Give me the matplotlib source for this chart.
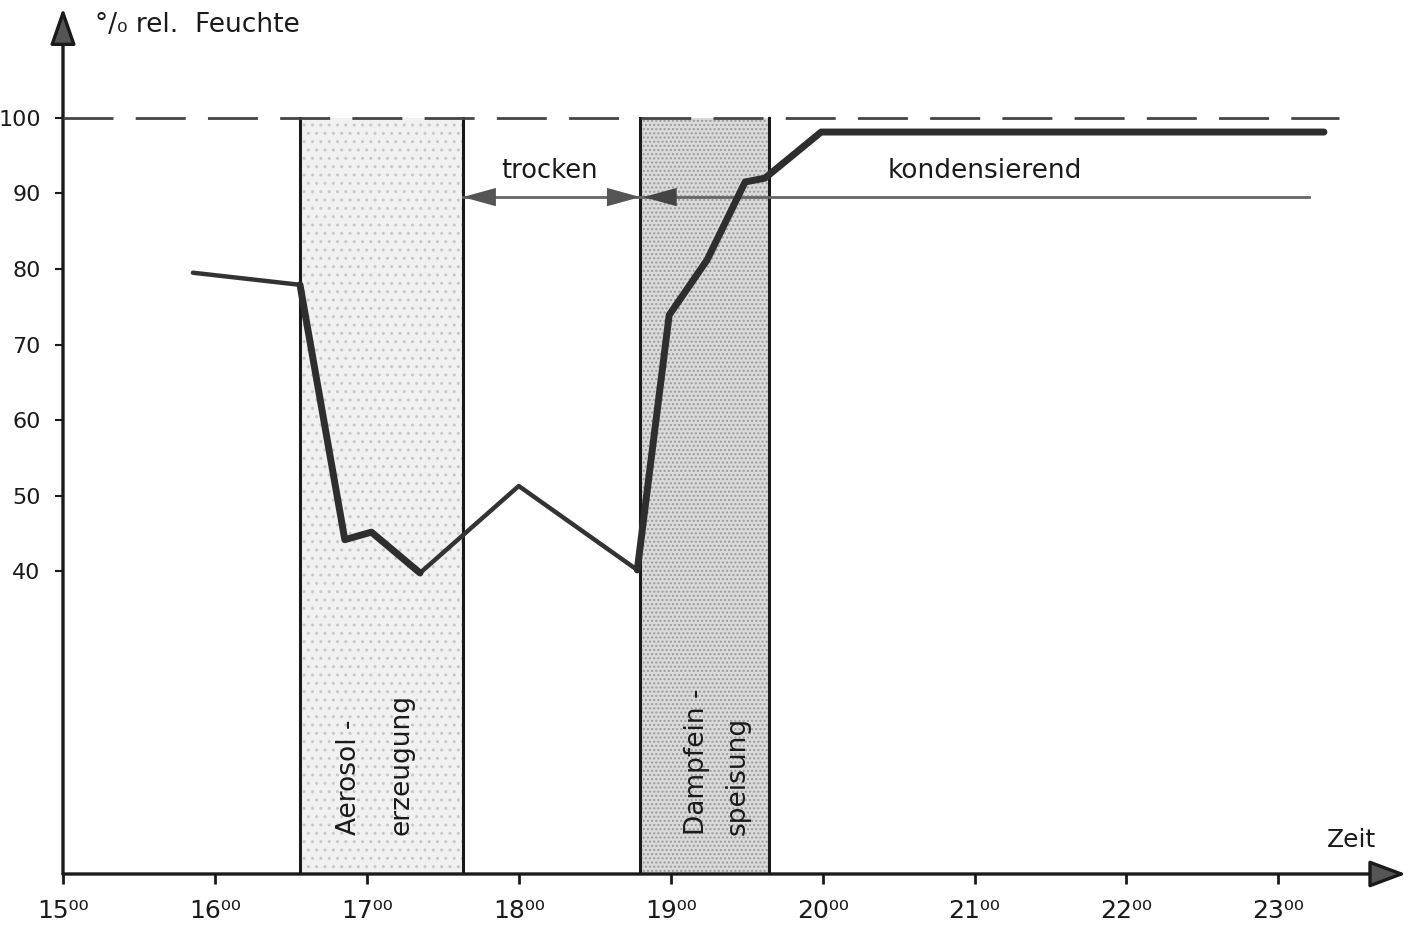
import matplotlib
matplotlib.use("Agg")
import matplotlib.pyplot as plt

# ---------------- data ----------------
time_h = [15.855, 16.56, 16.855, 17.03, 17.35, 18.0, 18.78, 18.99, 19.24, 19.49, 19.62, 19.99, 23.30]
humidity = [79.5, 77.9, 44.2, 45.2, 39.8, 51.3, 40.2, 73.9, 81.2, 91.5, 92.0, 98.1, 98.1]

aerosol_band = (16.56, 17.63)
dampf_band = (18.80, 19.65)
marker_level = 89.5
saturation = 100

x_ticks = [15, 16, 17, 18, 19, 20, 21, 22, 23]
x_tick_labels = ["15⁰⁰", "16⁰⁰", "17⁰⁰", "18⁰⁰", "19⁰⁰", "20⁰⁰", "21⁰⁰", "22⁰⁰", "23⁰⁰"]
y_ticks = [40, 50, 60, 70, 80, 90, 100]

W, H = 1418, 934
fig = plt.figure(figsize=(W / 100, H / 100), dpi=100)
ax = fig.add_axes([63 / W, 60 / H, (1406 - 63) / W, (874 - 8) / H])
ax.set_xlim(15, 23.84)
ax.set_ylim(0, 114.5)
for s in ax.spines.values():
    s.set_visible(False)

ink = "#1a1a1a"
gray = "#555555"

# axes with arrows
ax.annotate("", xy=(23.84, 0), xytext=(15, 0), xycoords="data",
            arrowprops=dict(arrowstyle="-|>,head_length=0.75,head_width=0.28",
                            mutation_scale=30, lw=2.4, color=ink, fc=gray,
                            shrinkA=0, shrinkB=0), annotation_clip=False)
ax.annotate("", xy=(15.0, 114.5), xytext=(15.0, 0), xycoords="data",
            arrowprops=dict(arrowstyle="-|>,head_length=0.75,head_width=0.26",
                            mutation_scale=30, lw=2.4, color=ink, fc=gray,
                            shrinkA=0, shrinkB=0), annotation_clip=False)

# ticks
ax.set_xticks(x_ticks)
ax.set_xticklabels(x_tick_labels, fontsize=18, color=ink)
ax.set_yticks(y_ticks)
ax.set_yticklabels([str(v) for v in y_ticks], fontsize=16, color=ink)
ax.tick_params(axis="x", direction="out", length=7, width=2, pad=11, colors=ink)
ax.tick_params(axis="y", direction="out", length=6, width=1.5, pad=10, colors=ink)

# shaded bands
ax.axvspan(aerosol_band[0], aerosol_band[1], ymin=0, ymax=saturation / 114.5,
           facecolor="#f1f1f1", edgecolor="#c8c8c8", hatch="..", lw=0, zorder=0)
ax.axvspan(dampf_band[0], dampf_band[1], ymin=0, ymax=saturation / 114.5,
           facecolor="#dadada", edgecolor="#9a9a9a", hatch="....", lw=0, zorder=0)
for xv in (*aerosol_band, *dampf_band):
    ax.plot([xv, xv], [0, saturation], color=ink, lw=2.2, zorder=2)

# 100% dashed line
ax.plot([15, 23.4], [saturation, saturation], color="#444444", lw=2,
        dashes=(18, 8), zorder=3)

# marker line at 90 %
ax.plot([aerosol_band[1], 23.2], [marker_level, marker_level], color="#666666", lw=2, zorder=3)
ax.annotate("", xy=(aerosol_band[1], marker_level), xytext=(18.3, marker_level),
            arrowprops=dict(arrowstyle="-|>,head_length=0.8,head_width=0.22",
                            mutation_scale=30, lw=0, color="#555555",
                            shrinkA=0, shrinkB=0))
ax.annotate("", xy=(dampf_band[0], marker_level), xytext=(18.2, marker_level),
            arrowprops=dict(arrowstyle="-|>,head_length=0.8,head_width=0.22",
                            mutation_scale=30, lw=0, color="#555555",
                            shrinkA=0, shrinkB=0))
ax.annotate("", xy=(dampf_band[0] + 0.02, marker_level), xytext=(19.4, marker_level),
            arrowprops=dict(arrowstyle="-|>,head_length=0.8,head_width=0.22",
                            mutation_scale=30, lw=0, color="#444444",
                            shrinkA=0, shrinkB=0))

# humidity curve (thin and thick parts as in the drawing)
thin_parts = [(0, 2), (4, 7)]
thick_parts = [(1, 5), (6, len(time_h))]
for a, b in thin_parts:
    ax.plot(time_h[a:b], humidity[a:b], color="#333333", lw=3.2,
            solid_joinstyle="round", solid_capstyle="round", zorder=4)
for a, b in thick_parts:
    ax.plot(time_h[a:b], humidity[a:b], color="#2e2e2e", lw=5,
            solid_joinstyle="round", solid_capstyle="round", zorder=5)

# texts
ax.text(18.2, 93.0, "trocken", fontsize=18.5, ha="center", va="center", color=ink)
ax.text(21.07, 93.0, "kondensierend", fontsize=19, ha="center", va="center", color=ink)
ax.text(23.32, 4.5, "Zeit", fontsize=18, ha="left", va="center", color=ink)
ax.text(15.21, 112.3, "°/₀ rel.  Feuchte", fontsize=19, ha="left", va="center",
        color=ink, clip_on=False)

ax.text(16.88, 5.2, "Aerosol -", fontsize=19, rotation=90, ha="center", va="bottom", color=ink)
ax.text(17.23, 5.2, "erzeugung", fontsize=19, rotation=90, ha="center", va="bottom", color=ink)
ax.text(19.17, 5.2, "Dampfein -", fontsize=19, rotation=90, ha="center", va="bottom", color=ink)
ax.text(19.44, 5.2, "speisung", fontsize=19, rotation=90, ha="center", va="bottom", color=ink)

fig.savefig("out.png", dpi=100)
